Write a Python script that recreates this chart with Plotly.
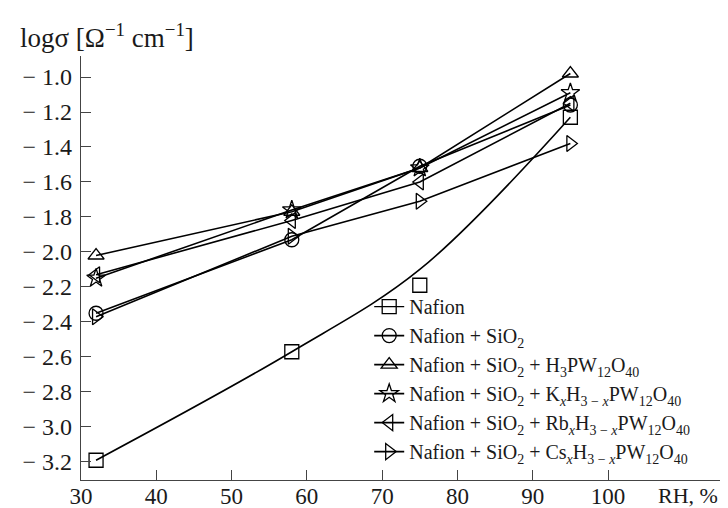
import plotly.graph_objects as go

rh = [32, 58, 75, 95]

nafion = [-3.19, -2.57, -2.19, -1.23]
nafion_sio2 = [-2.35, -1.93, -1.51, -1.16]
nafion_h3pw = [-2.02, -1.77, -1.52, -0.98]
nafion_k = [-2.15, -1.76, -1.52, -1.09]
nafion_rb = [-2.13, -1.82, -1.60, -1.15]
nafion_cs = [-2.37, -1.91, -1.71, -1.38]

# smooth curve drawn through the Nafion data in the reference
nafion_curve_rh = [32, 58, 75, 95]
nafion_curve = [-3.19, -2.57, -2.10, -1.23]

x_ticks = [30, 40, 50, 60, 70, 80, 90, 100]
y_ticks = [-1.0, -1.2, -1.4, -1.6, -1.8, -2.0, -2.2, -2.4, -2.6, -2.8, -3.0, -3.2]
y_ticktext = ["− " + f"{abs(v):.1f}" for v in y_ticks]

names = [
    "Nafion",
    "Nafion + SiO<sub>2</sub>",
    "Nafion + SiO<sub>2</sub> + H<sub>3</sub>PW<sub>12</sub>O<sub>40</sub>",
    "Nafion + SiO<sub>2</sub> + K<sub><i>x</i></sub>H<sub>3 − <i>x</i></sub>PW<sub>12</sub>O<sub>40</sub>",
    "Nafion + SiO<sub>2</sub> + Rb<sub><i>x</i></sub>H<sub>3 − <i>x</i></sub>PW<sub>12</sub>O<sub>40</sub>",
    "Nafion + SiO<sub>2</sub> + Cs<sub><i>x</i></sub>H<sub>3 − <i>x</i></sub>PW<sub>12</sub>O<sub>40</sub>",
]
series = [nafion, nafion_sio2, nafion_h3pw, nafion_k, nafion_rb, nafion_cs]
symbols = ["square-open", "circle-open", "triangle-up-open", "star-open",
           "triangle-left-open", "triangle-right-open"]

FONT = "Liberation Serif, Times New Roman, serif"
TXT = "#1a1a1a"
fig = go.Figure()

mk = lambda s: dict(symbol=s, size=14, color="black", line=dict(width=1.3, color="black"))

# Nafion: smooth curve + markers, legend via dummy
fig.add_trace(go.Scatter(x=nafion_curve_rh, y=nafion_curve, mode="lines",
                         line=dict(color="black", width=1.6, shape="spline"),
                         showlegend=False, hoverinfo="skip"))
fig.add_trace(go.Scatter(x=rh, y=nafion, mode="markers", marker=mk(symbols[0]),
                         showlegend=False))
fig.add_trace(go.Scatter(x=[None], y=[None], mode="lines+markers", name=names[0],
                         line=dict(color="black", width=1.3), marker=mk(symbols[0])))

for i in range(1, 6):
    fig.add_trace(go.Scatter(x=rh, y=series[i], mode="lines+markers", name=names[i],
                             line=dict(color="black", width=1.6), marker=mk(symbols[i])))

fig.update_layout(
    width=728, height=508,
    margin=dict(l=73, r=0, t=48, b=36),
    paper_bgcolor="white", plot_bgcolor="white",
    font=dict(family=FONT, size=23, color=TXT),
    showlegend=True,
    legend=dict(x=0.44, y=0.455, xanchor="left", yanchor="top",
                bgcolor="rgba(255,255,255,0)", font=dict(family=FONT, size=20, color=TXT),
                tracegroupgap=0),
    xaxis=dict(range=[30, 117], tickvals=x_ticks,
               showgrid=False, zeroline=False, showline=True, linecolor="#444", linewidth=1.2,
               ticks="inside", ticklen=10, tickcolor="#444", tickwidth=1.2,
               ticklabelstandoff=-5,
               tickfont=dict(family=FONT, size=23, color=TXT)),
    yaxis=dict(range=[-3.303, -0.88], tickvals=y_ticks, ticktext=y_ticktext,
               showgrid=False, zeroline=False, showline=True, linecolor="#444", linewidth=1.2,
               ticks="inside", ticklen=10, tickcolor="#444", tickwidth=1.2,
               ticklabelstandoff=3,
               tickfont=dict(family=FONT, size=24, color=TXT)),
    annotations=[
        dict(text="logσ [Ω<sup>−1</sup> cm<sup>−1</sup>]", xref="paper", yref="paper",
             x=-0.096, y=1.047, xanchor="left", yanchor="middle", showarrow=False,
             font=dict(family=FONT, size=27, color=TXT)),
        dict(text="RH, %", xref="paper", yref="paper", x=0.927, y=-0.036,
             xanchor="center", yanchor="middle", showarrow=False, borderpad=0,
             font=dict(family=FONT, size=22, color=TXT)),
    ],
)

fig.write_html("out.html")
